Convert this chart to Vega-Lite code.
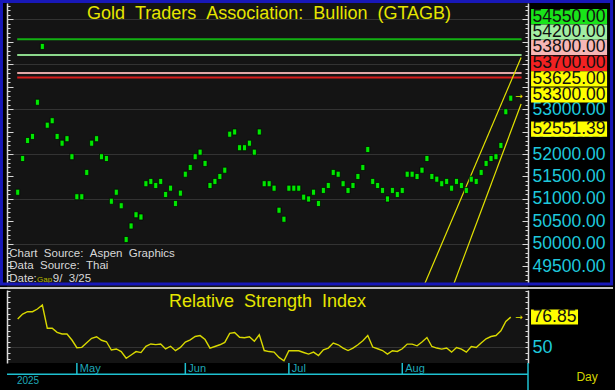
{
  "$schema": "https://vega.github.io/schema/vega-lite/v6.json",
  "width": 521,
  "height": 360,
  "autosize": {"type": "none"},
  "padding": {"left": 7, "top": 3, "right": 87, "bottom": 27},
  "background": "#000000",
  "config": {"view": {"fill": "#141414", "stroke": null}, "font": "Liberation Sans"},
  "datasets": {
    "daily": [
      {"i":0,"p":51150,"r":75.2},{"i":1,"p":51900,"r":79.6},{"i":2,"p":52300,"r":81.6},{"i":3,"p":52390,"r":81.6},{"i":4,"p":53150,"r":84.0},
      {"i":5,"p":54390,"r":87.5},{"i":6,"p":52640,"r":67.0},{"i":7,"p":52740,"r":67.0},{"i":8,"p":52390,"r":63.4},{"i":9,"p":52240,"r":61.9},
      {"i":10,"p":52340,"r":61.9},{"i":11,"p":51940,"r":56.6},{"i":12,"p":51050,"r":49.8},{"i":13,"p":51050,"r":50.1},{"i":14,"p":51590,"r":54.2},
      {"i":15,"p":52240,"r":58.1},{"i":16,"p":52340,"r":59.5},{"i":17,"p":51940,"r":56.4},{"i":18,"p":51900,"r":55.1},{"i":19,"p":50950,"r":47.8},
      {"i":20,"p":51150,"r":48.7},{"i":21,"p":50850,"r":46.4},{"i":22,"p":50100,"r":40.5},{"i":23,"p":50400,"r":43.4},{"i":24,"p":50650,"r":46.4},
      {"i":25,"p":50600,"r":45.5},{"i":26,"p":51340,"r":51.1},{"i":27,"p":51390,"r":53.1},{"i":28,"p":51300,"r":52.5},{"i":29,"p":51390,"r":53.1},
      {"i":30,"p":51100,"r":48.7},{"i":31,"p":51240,"r":51.1},{"i":32,"p":50900,"r":47.2},{"i":33,"p":51130,"r":50.1},{"i":34,"p":51550,"r":54.8},
      {"i":35,"p":51700,"r":56.8},{"i":36,"p":51940,"r":59.7},{"i":37,"p":52040,"r":60.5},{"i":38,"p":51790,"r":57.0},{"i":39,"p":51300,"r":49.5},
      {"i":40,"p":51390,"r":50.9},{"i":41,"p":51500,"r":52.4},{"i":42,"p":51640,"r":54.5},{"i":43,"p":52440,"r":62.5},{"i":44,"p":52490,"r":63.3},
      {"i":45,"p":52140,"r":59.0},{"i":46,"p":52140,"r":58.6},{"i":47,"p":52240,"r":59.5},{"i":48,"p":52040,"r":55.5},{"i":49,"p":52490,"r":61.2},
      {"i":50,"p":51340,"r":47.3},{"i":51,"p":51340,"r":46.4},{"i":52,"p":51240,"r":45.9},{"i":53,"p":50750,"r":41.2},{"i":54,"p":50550,"r":38.3},
      {"i":55,"p":51240,"r":47.1},{"i":56,"p":51240,"r":47.1},{"i":57,"p":51240,"r":47.1},{"i":58,"p":51040,"r":45.6},{"i":59,"p":51000,"r":44.2},
      {"i":60,"p":51150,"r":45.9},{"i":61,"p":50900,"r":42.9},{"i":62,"p":51190,"r":48.0},{"i":63,"p":51300,"r":49.5},{"i":64,"p":51590,"r":53.9},
      {"i":65,"p":51550,"r":52.4},{"i":66,"p":51340,"r":49.5},{"i":67,"p":51190,"r":47.3},{"i":68,"p":51300,"r":49.5},{"i":69,"p":51500,"r":52.4},
      {"i":70,"p":51700,"r":55.9},{"i":71,"p":52100,"r":60.6},{"i":72,"p":51390,"r":50.4},{"i":73,"p":51300,"r":48.9},{"i":74,"p":51190,"r":47.3},
      {"i":75,"p":51000,"r":44.2},{"i":76,"p":51190,"r":47.1},{"i":77,"p":51100,"r":46.5},{"i":78,"p":51190,"r":48.9},{"i":79,"p":51550,"r":53.0},
      {"i":80,"p":51550,"r":53.0},{"i":81,"p":51500,"r":51.5},{"i":82,"p":51640,"r":54.8},{"i":83,"p":51900,"r":58.8},{"i":84,"p":51500,"r":50.9},
      {"i":85,"p":51440,"r":49.5},{"i":86,"p":51340,"r":48.6},{"i":87,"p":51390,"r":49.5},{"i":88,"p":51240,"r":45.9},{"i":89,"p":51390,"r":50.0},
      {"i":90,"p":51300,"r":48.6},{"i":91,"p":51190,"r":45.9},{"i":92,"p":51440,"r":50.9},{"i":93,"p":51390,"r":50.0},{"i":94,"p":51590,"r":53.9},
      {"i":95,"p":51790,"r":57.7},{"i":96,"p":51900,"r":59.7},{"i":97,"p":51940,"r":60.6},{"i":98,"p":52190,"r":64.8},{"i":99,"p":52940,"r":73.0},
      {"i":100,"p":53240,"r":76.85}
    ],
    "levels": [
      {"v":54550,"k":"a"},{"v":54200,"k":"b"},{"v":53800,"k":"c"},{"v":53700,"k":"d"}
    ],
    "channel": [
      {"line":"upper","i":82.6,"v":49126},{"line":"upper","i":102.1,"v":54145},
      {"line":"lower","i":88.5,"v":49126},{"line":"lower","i":102.1,"v":53111}
    ],
    "months": [
      {"i":12,"m":"May"},{"i":34,"m":"Jun"},{"i":55,"m":"Jul"},{"i":78,"m":"Aug"}
    ]
  },
  "layer": [
    {
      "layer": [
        {
          "data": {"name": "levels"},
          "mark": {"type": "rule", "strokeWidth": 2},
          "encoding": {
            "x": {"datum": -0.1, "type": "quantitative", "scale": {"domain": [-2.17, 103.5], "nice": false, "zero": false}, "axis": null},
            "x2": {"datum": 102.2},
            "y": {"field": "v", "type": "quantitative", "scale": {"domain": [49133, 55356], "range": [280, 0], "nice": false, "zero": false},
                  "axis": {"orient": "left", "values": [50000,51000,52000,53000,54000,55000], "grid": true, "gridColor": "#333333", "ticks": false, "labels": false, "domain": false, "title": null}},
            "stroke": {"field": "k", "type": "nominal", "scale": {"domain": ["a","b","c","d"], "range": ["#12b012","#8cd88c","#e2a6a6","#d81a1a"]}, "legend": null}
          }
        },
        {
          "data": {"name": "channel"},
          "mark": {"type": "line", "color": "#e2e200", "strokeWidth": 1.2},
          "encoding": {
            "x": {"field": "i", "type": "quantitative", "scale": {"domain": [-2.17, 103.5], "nice": false, "zero": false}, "axis": null},
            "y": {"field": "v", "type": "quantitative", "scale": {"domain": [49133, 55356], "range": [280, 0], "nice": false, "zero": false},
                  "axis": {"orient": "left", "values": [49200,49300,49400,49500,49600,49700,49800,49900,50000,50100,50200,50300,50400,50500,50600,50700,50800,50900,51000,51100,51200,51300,51400,51500,51600,51700,51800,51900,52000,52100,52200,52300,52400,52500,52600,52700,52800,52900,53000,53100,53200,53300,53400,53500,53600,53700,53800,53900,54000,54100,54200,54300,54400,54500,54600,54700,54800,54900,55000,55100,55200,55300],
                           "grid": false, "tickSize": -3, "tickColor": "#d8d8d8", "labels": false, "domain": true, "domainColor": "#d8d8d8", "domainWidth": 1.5, "title": null}},
            "detail": {"field": "line", "type": "nominal"}
          }
        },
        {
          "data": {"name": "daily"},
          "mark": {"type": "point", "shape": "M-0.67,-1H0.67V1H-0.67Z", "size": 36, "filled": true, "fill": "#00e800", "stroke": "#000000", "strokeWidth": 0.7, "opacity": 1},
          "encoding": {
            "x": {"field": "i", "type": "quantitative", "scale": {"domain": [-2.17, 103.5], "nice": false, "zero": false},
                  "axis": {"values": [12, 34, 55, 78], "grid": true, "gridColor": "#333333", "domainColor": "#cfcfcf", "domainWidth": 1.5,
                           "ticks": false, "labels": false, "title": null}},
            "y": {"field": "p", "type": "quantitative", "scale": {"domain": [49133, 55356], "range": [280, 0], "nice": false, "zero": false},
                  "axis": {"orient": "right", "values": [49500,50000,50500,51000,51500,52000,52500,53000], "ticks": false, "domain": false, "grid": false,
                           "labelColor": "#1ec8dc", "labelFontSize": 17.5, "labelFont": "Liberation Sans", "labelPadding": 4, "format": ".2f", "labelOverlap": false, "title": null}}
          }
        },
        {
          "data": {"values": [{}]},
          "mark": {"type": "text", "text": "Gold \u00a0Traders \u00a0Association: \u00a0Bullion \u00a0(GTAGB)", "font": "Liberation Sans", "fontSize": 18, "color": "#e6e600", "align": "center", "baseline": "alphabetic"},
          "encoding": {
            "x": {"datum": 50.97, "type": "quantitative", "scale": {"domain": [-2.17, 103.5], "nice": false, "zero": false}, "axis": null},
            "y": {"datum": 55000, "type": "quantitative", "scale": {"domain": [49133, 55356], "range": [280, 0], "nice": false, "zero": false},
                  "axis": {"orient": "left", "values": [49500,50000,50500,51000,51500,52000,52500,53000,53500,54000,54500,55000], "tickSize": -6, "tickColor": "#d8d8d8", "labels": false, "domain": false, "grid": false, "title": null}}
          }
        },
        {
          "data": {"values": [{}]},
          "mark": {"type": "text", "text": ["Chart \u00a0Source: \u00a0Aspen \u00a0Graphics", "Data \u00a0Source: \u00a0Thai", "Date: \u00a0 \u00a0 9/ \u00a03/25"], "lineHeight": 12.2, "font": "Liberation Sans", "fontSize": 11.5, "color": "#d8d8d8", "align": "left", "baseline": "alphabetic"},
          "encoding": {
            "x": {"datum": -1.7, "type": "quantitative", "scale": {"domain": [-2.17, 103.5], "nice": false, "zero": false}, "axis": null},
            "y": {"datum": 49704, "type": "quantitative", "scale": {"domain": [49133, 55356], "range": [280, 0], "nice": false, "zero": false},
                  "axis": {"orient": "right", "values": [49200,49300,49400,49500,49600,49700,49800,49900,50000,50100,50200,50300,50400,50500,50600,50700,50800,50900,51000,51100,51200,51300,51400,51500,51600,51700,51800,51900,52000,52100,52200,52300,52400,52500,52600,52700,52800,52900,53000,53100,53200,53300,53400,53500,53600,53700,53800,53900,54000,54100,54200,54300,54400,54500,54600,54700,54800,54900,55000,55100,55200,55300],
                           "grid": false, "tickSize": -3, "tickColor": "#d8d8d8", "labels": false, "domain": true, "domainColor": "#d8d8d8", "domainWidth": 1.5, "title": null}}
          }
        },
        {
          "data": {"values": [{}]},
          "mark": {"type": "text", "text": "Gap", "font": "Liberation Sans", "fontSize": 8, "color": "#b8b800", "align": "left", "baseline": "alphabetic"},
          "encoding": {
            "x": {"datum": 3.92, "type": "quantitative", "scale": {"domain": [-2.17, 103.5], "nice": false, "zero": false}, "axis": null},
            "y": {"datum": 49162, "type": "quantitative", "scale": {"domain": [49133, 55356], "range": [280, 0], "nice": false, "zero": false},
                  "axis": {"orient": "right", "values": [49500,50000,50500,51000,51500,52000,52500,53000,53500,54000,54500,55000], "tickSize": -6, "tickColor": "#d8d8d8", "labels": false, "domain": false, "grid": false, "title": null}}
          }
        },
        {
          "data": {"values": [{}]},
          "mark": {"type": "text", "text": "→", "font": "DejaVu Sans", "fontSize": 9, "color": "#e6e600", "align": "center", "baseline": "middle"},
          "encoding": {
            "x": {"datum": 101.69, "type": "quantitative", "scale": {"domain": [-2.17, 103.5], "nice": false, "zero": false}, "axis": null},
            "y": {"datum": 53289, "type": "quantitative", "scale": {"domain": [49133, 55356], "range": [280, 0], "nice": false, "zero": false}, "axis": null}
          }
        },
        {
          "data": {"values": [{"label": "54550.00"}]},
          "encoding": {
            "x": {"datum": 111.83, "type": "quantitative", "scale": {"domain": [-2.17, 103.5], "nice": false, "zero": false}, "axis": null},
            "y": {"datum": 55051, "type": "quantitative", "scale": {"domain": [49133, 55356], "range": [280, 0], "nice": false, "zero": false}, "axis": null}
          },
          "layer": [
            {"mark": {"type": "point", "shape": "M-1,-0.2H1V0.2H-1Z", "size": 5776, "filled": true, "fill": "#19e419", "strokeWidth": 0, "opacity": 1}},
            {"mark": {"type": "text", "font": "Liberation Sans", "fontSize": 17.5, "color": "#111111", "align": "center", "baseline": "middle"}, "encoding": {"text": {"field": "label"}}}
          ]
        },
        {
          "data": {"values": [{"label": "54200.00"}]},
          "encoding": {
            "x": {"datum": 111.83, "type": "quantitative", "scale": {"domain": [-2.17, 103.5], "nice": false, "zero": false}, "axis": null},
            "y": {"datum": 54707, "type": "quantitative", "scale": {"domain": [49133, 55356], "range": [280, 0], "nice": false, "zero": false}, "axis": null}
          },
          "layer": [
            {"mark": {"type": "point", "shape": "M-1,-0.2H1V0.2H-1Z", "size": 5776, "filled": true, "fill": "#a2eea2", "strokeWidth": 0, "opacity": 1}},
            {"mark": {"type": "text", "font": "Liberation Sans", "fontSize": 17.5, "color": "#111111", "align": "center", "baseline": "middle"}, "encoding": {"text": {"field": "label"}}}
          ]
        },
        {
          "data": {"values": [{"label": "53800.00"}]},
          "encoding": {
            "x": {"datum": 111.83, "type": "quantitative", "scale": {"domain": [-2.17, 103.5], "nice": false, "zero": false}, "axis": null},
            "y": {"datum": 54367, "type": "quantitative", "scale": {"domain": [49133, 55356], "range": [280, 0], "nice": false, "zero": false}, "axis": null}
          },
          "layer": [
            {"mark": {"type": "point", "shape": "M-1,-0.2H1V0.2H-1Z", "size": 5776, "filled": true, "fill": "#f6b6b6", "strokeWidth": 0, "opacity": 1}},
            {"mark": {"type": "text", "font": "Liberation Sans", "fontSize": 17.5, "color": "#111111", "align": "center", "baseline": "middle"}, "encoding": {"text": {"field": "label"}}}
          ]
        },
        {
          "data": {"values": [{"label": "53700.00"}]},
          "encoding": {
            "x": {"datum": 111.83, "type": "quantitative", "scale": {"domain": [-2.17, 103.5], "nice": false, "zero": false}, "axis": null},
            "y": {"datum": 54016, "type": "quantitative", "scale": {"domain": [49133, 55356], "range": [280, 0], "nice": false, "zero": false}, "axis": null}
          },
          "layer": [
            {"mark": {"type": "point", "shape": "M-1,-0.2H1V0.2H-1Z", "size": 5776, "filled": true, "fill": "#f22222", "strokeWidth": 0, "opacity": 1}},
            {"mark": {"type": "text", "font": "Liberation Sans", "fontSize": 17.5, "color": "#111111", "align": "center", "baseline": "middle"}, "encoding": {"text": {"field": "label"}}}
          ]
        },
        {
          "data": {"values": [{"label": "53625.00"}]},
          "encoding": {
            "x": {"datum": 111.83, "type": "quantitative", "scale": {"domain": [-2.17, 103.5], "nice": false, "zero": false}, "axis": null},
            "y": {"datum": 53671, "type": "quantitative", "scale": {"domain": [49133, 55356], "range": [280, 0], "nice": false, "zero": false}, "axis": null}
          },
          "layer": [
            {"mark": {"type": "point", "shape": "M-1,-0.2H1V0.2H-1Z", "size": 5776, "filled": true, "fill": "#ffff00", "strokeWidth": 0, "opacity": 1}},
            {"mark": {"type": "text", "font": "Liberation Sans", "fontSize": 17.5, "color": "#111111", "align": "center", "baseline": "middle"}, "encoding": {"text": {"field": "label"}}}
          ]
        },
        {
          "data": {"values": [{"label": "53300.00"}]},
          "encoding": {
            "x": {"datum": 111.83, "type": "quantitative", "scale": {"domain": [-2.17, 103.5], "nice": false, "zero": false}, "axis": null},
            "y": {"datum": 53311, "type": "quantitative", "scale": {"domain": [49133, 55356], "range": [280, 0], "nice": false, "zero": false}, "axis": null}
          },
          "layer": [
            {"mark": {"type": "point", "shape": "M-1,-0.2H1V0.2H-1Z", "size": 5776, "filled": true, "fill": "#ffff00", "strokeWidth": 0, "opacity": 1}},
            {"mark": {"type": "text", "font": "Liberation Sans", "fontSize": 17.5, "color": "#111111", "align": "center", "baseline": "middle"}, "encoding": {"text": {"field": "label"}}}
          ]
        },
        {
          "data": {"values": [{"label": "52551.39"}]},
          "encoding": {
            "x": {"datum": 111.83, "type": "quantitative", "scale": {"domain": [-2.17, 103.5], "nice": false, "zero": false}, "axis": null},
            "y": {"datum": 52551, "type": "quantitative", "scale": {"domain": [49133, 55356], "range": [280, 0], "nice": false, "zero": false}, "axis": null}
          },
          "layer": [
            {"mark": {"type": "point", "shape": "M-1,-0.2H1V0.2H-1Z", "size": 5776, "filled": true, "fill": "#ffff00", "strokeWidth": 0, "opacity": 1}},
            {"mark": {"type": "text", "font": "Liberation Sans", "fontSize": 17.5, "color": "#111111", "align": "center", "baseline": "middle"}, "encoding": {"text": {"field": "label"}}}
          ]
        },
        {
          "data": {"values": [{}]},
          "mark": {"type": "rect", "filled": false, "stroke": "#1818b8", "strokeWidth": 3},
          "encoding": {
            "x": {"datum": -3.29, "type": "quantitative", "scale": {"domain": [-2.17, 103.5], "nice": false, "zero": false}, "axis": null},
            "x2": {"datum": 120.45},
            "y": {"datum": 55389, "type": "quantitative", "scale": {"domain": [49133, 55356], "range": [280, 0], "nice": false, "zero": false}, "axis": null},
            "y2": {"datum": 49111}
          }
        }
      ],
      "resolve": {"axis": {"y": "independent"}}
    },
    {
      "layer": [
        {
          "data": {"name": "daily"},
          "mark": {"type": "line", "color": "#d8d800", "strokeWidth": 1.4},
          "encoding": {
            "x": {"field": "i", "type": "quantitative", "scale": {"domain": [-2.17, 103.5], "nice": false, "zero": false}, "axis": null},
            "y": {"field": "r", "type": "quantitative", "scale": {"domain": [36.3, 100.8], "range": [360, 287], "nice": false, "zero": false},
                  "axis": {"orient": "left", "values": [50], "grid": true, "gridColor": "#333333", "ticks": false, "labels": false, "domain": false, "title": null}}
          }
        },
        {
          "data": {"values": [{}]},
          "mark": {"type": "text", "text": "Relative \u00a0Strength \u00a0Index", "font": "Liberation Sans", "fontSize": 18, "color": "#e6e600", "align": "center", "baseline": "alphabetic"},
          "encoding": {
            "x": {"datum": 50.67, "type": "quantitative", "scale": {"domain": [-2.17, 103.5], "nice": false, "zero": false}, "axis": null},
            "y": {"datum": 86.04, "type": "quantitative", "scale": {"domain": [36.3, 100.8], "range": [360, 287], "nice": false, "zero": false},
                  "axis": {"orient": "left", "values": [40,45,50,55,60,65,70,75,80,85,90,95,100], "tickSize": -3, "tickColor": "#d8d8d8", "labels": false, "domain": true, "domainColor": "#d8d8d8", "domainWidth": 1.5, "grid": false, "title": null}}
          }
        },
        {
          "data": {"values": [{}]},
          "mark": {"type": "text", "text": "→", "font": "DejaVu Sans", "fontSize": 9, "color": "#e6e600", "align": "center", "baseline": "middle"},
          "encoding": {
            "x": {"datum": 101.69, "type": "quantitative", "scale": {"domain": [-2.17, 103.5], "nice": false, "zero": false}, "axis": null},
            "y": {"datum": 76.9, "type": "quantitative", "scale": {"domain": [36.3, 100.8], "range": [360, 287], "nice": false, "zero": false},
                  "axis": {"orient": "right", "values": [40,45,50,55,60,65,70,75,80,85,90,95,100], "tickSize": -3, "tickColor": "#d8d8d8", "labels": false, "domain": true, "domainColor": "#d8d8d8", "domainWidth": 1.5, "grid": false, "title": null}}
          }
        },
        {
          "data": {"values": [{"label": "76.85"}]},
          "encoding": {
            "x": {"datum": 108.88, "type": "quantitative", "scale": {"domain": [-2.17, 103.5], "nice": false, "zero": false}, "axis": null},
            "y": {"datum": 76.9, "type": "quantitative", "scale": {"domain": [36.3, 100.8], "range": [360, 287], "nice": false, "zero": false}, "axis": null}
          },
          "layer": [
            {"mark": {"type": "point", "shape": "M-1,-0.32H1V0.32H-1Z", "size": 2209, "filled": true, "fill": "#ffff00", "strokeWidth": 0, "opacity": 1}},
            {"mark": {"type": "text", "font": "Liberation Sans", "fontSize": 17.5, "color": "#111111", "align": "center", "baseline": "middle"}, "encoding": {"text": {"field": "label"}}}
          ]
        },
        {
          "data": {"values": [{}]},
          "mark": {"type": "text", "text": "Day", "font": "Liberation Sans", "fontSize": 12, "color": "#d4d400", "align": "center", "baseline": "middle"},
          "encoding": {
            "x": {"datum": 115.48, "type": "quantitative", "scale": {"domain": [-2.17, 103.5], "nice": false, "zero": false}, "axis": null},
            "y": {"datum": 24.2, "type": "quantitative", "scale": {"domain": [36.3, 100.8], "range": [360, 287], "nice": false, "zero": false},
                  "axis": {"orient": "right", "values": [50], "ticks": false, "domain": false, "grid": false, "labelColor": "#1ec8dc", "labelFontSize": 18, "labelFont": "Liberation Sans", "labelPadding": 4, "title": null}}
          }
        },
        {
          "data": {"values": [{}]},
          "mark": {"type": "text", "text": "2025", "font": "Liberation Sans", "fontSize": 10, "color": "#1fa8b8", "align": "center", "baseline": "middle"},
          "encoding": {
            "x": {"datum": 2.09, "type": "quantitative", "scale": {"domain": [-2.17, 103.5], "nice": false, "zero": false}, "axis": null},
            "y": {"datum": 20.4, "type": "quantitative", "scale": {"domain": [36.3, 100.8], "range": [360, 287], "nice": false, "zero": false}, "axis": null}
          }
        },
        {
          "data": {"name": "months"},
          "mark": {"type": "rule", "color": "#1ec0d0", "strokeWidth": 1.5},
          "encoding": {
            "x": {"field": "i", "type": "quantitative", "scale": {"domain": [-2.17, 103.5], "nice": false, "zero": false}, "axis": null},
            "y": {"datum": 36.3, "type": "quantitative", "scale": {"domain": [36.3, 100.8], "range": [360, 287], "nice": false, "zero": false}, "axis": null},
            "y2": {"datum": 26.32}
          }
        },
        {
          "data": {"name": "months"},
          "mark": {"type": "text", "font": "Liberation Sans", "fontSize": 11, "color": "#1fa8b8", "align": "left", "baseline": "middle", "dx": 3},
          "encoding": {
            "x": {"field": "i", "type": "quantitative", "scale": {"domain": [-2.17, 103.5], "nice": false, "zero": false}, "axis": null},
            "y": {"datum": 30.56, "type": "quantitative", "scale": {"domain": [36.3, 100.8], "range": [360, 287], "nice": false, "zero": false}, "axis": null},
            "text": {"field": "m"}
          }
        },
        {
          "data": {"values": [{}]},
          "mark": {"type": "rule", "color": "#1ec0d0", "strokeWidth": 1.5},
          "encoding": {
            "x": {"datum": -2.17, "type": "quantitative", "scale": {"domain": [-2.17, 103.5], "nice": false, "zero": false}, "axis": null},
            "x2": {"datum": 103.5},
            "y": {"datum": 26.32, "type": "quantitative", "scale": {"domain": [36.3, 100.8], "range": [360, 287], "nice": false, "zero": false}, "axis": null}
          }
        },
        {
          "data": {"values": [{}]},
          "mark": {"type": "rule", "color": "#1ec0d0", "strokeWidth": 1.5},
          "encoding": {
            "x": {"datum": 103.5, "type": "quantitative", "scale": {"domain": [-2.17, 103.5], "nice": false, "zero": false}, "axis": null},
            "y": {"datum": 36.3, "type": "quantitative", "scale": {"domain": [36.3, 100.8], "range": [360, 287], "nice": false, "zero": false}, "axis": null},
            "y2": {"datum": 12.44}
          }
        },
        {
          "data": {"values": [{}]},
          "mark": {"type": "rule", "color": "#c4c4c4", "strokeWidth": 2},
          "encoding": {
            "x": {"datum": -3.59, "type": "quantitative", "scale": {"domain": [-2.17, 103.5], "nice": false, "zero": false}, "axis": null},
            "x2": {"datum": 120.75},
            "y": {"datum": 102.57, "type": "quantitative", "scale": {"domain": [36.3, 100.8], "range": [360, 287], "nice": false, "zero": false}, "axis": null}
          }
        }
      ],
      "resolve": {"axis": {"y": "independent"}}
    }
  ],
  "resolve": {"scale": {"y": "independent"}, "axis": {"y": "independent"}}
}
